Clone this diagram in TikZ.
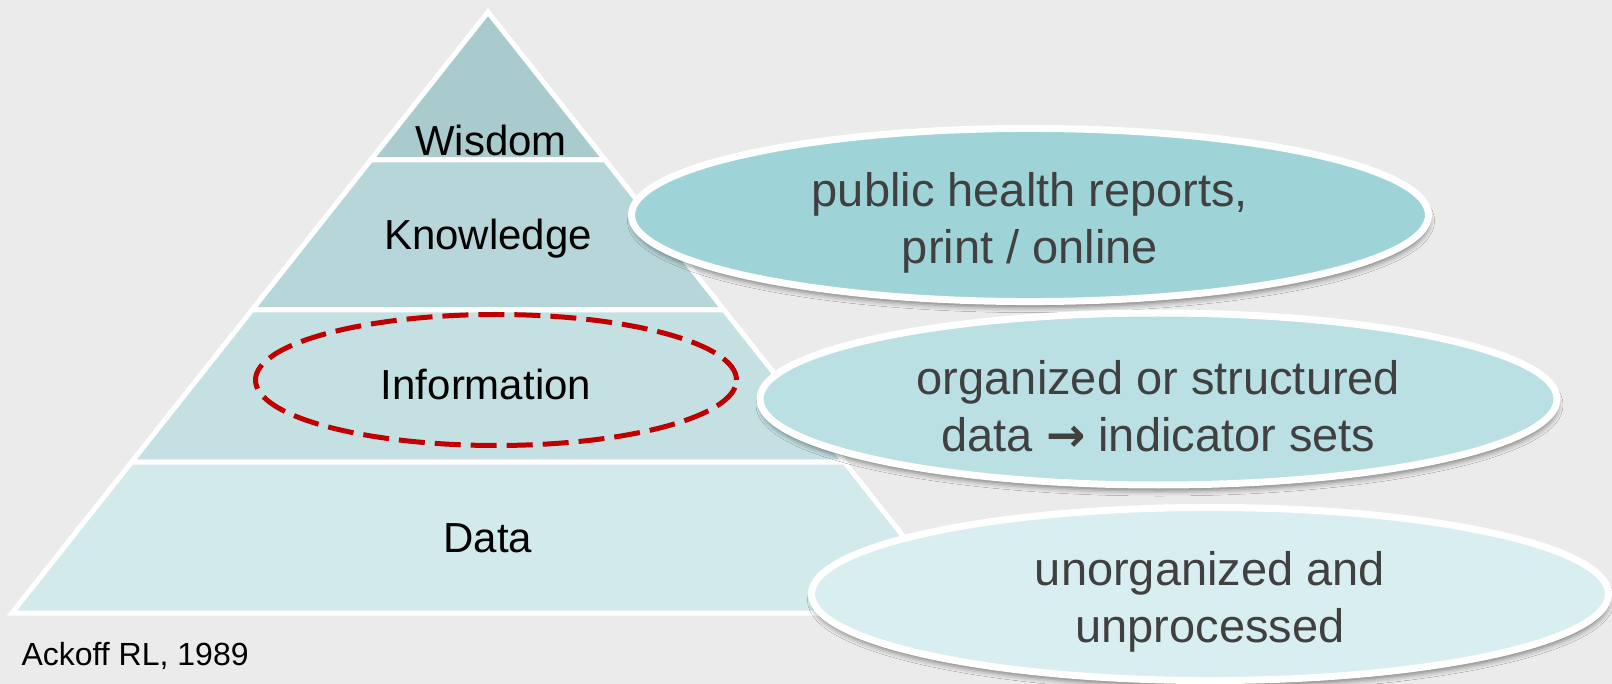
\documentclass[tikz,border=0pt]{standalone}
\usepackage{fontspec}
\setmainfont{Liberation Sans}
\newfontfamily\arrowfont{DejaVu Sans}
\usepackage{tikz}
\usetikzlibrary{shapes.geometric,shadows.blur}

\definecolor{slidebg}{HTML}{EBEBEB}
\definecolor{wisdomcol}{HTML}{A9CBCE}
\definecolor{knowcol}{HTML}{B7D6D9}
\definecolor{infocol}{HTML}{C5E0E3}
\definecolor{datacol}{HTML}{D3EAEC}
\definecolor{reportcol}{HTML}{9ED3D7}
\definecolor{indicatorcol}{HTML}{BAE0E3}
\definecolor{rawcol}{HTML}{D9EEF0}
\definecolor{markred}{HTML}{C00000}
\definecolor{notegray}{HTML}{404040}

\begin{document}
\begin{tikzpicture}[x=1pt, y=-1pt,
        tier/.style = {draw=white, line width=5pt},
        tierlabel/.style = {anchor=base, text=black, font=\fontsize{42}{48}\selectfont},
        noteoval/.style = {ellipse, draw=white, line width=7pt, minimum width=797pt, minimum height=172pt,
            align=center, text=notegray, text height=106pt, font=\fontsize{47}{57}\selectfont,
            blur shadow={shadow xshift=1pt, shadow yshift=-6pt, shadow blur radius=5pt, shadow opacity=45}},
        infoloop/.style = {ellipse, draw=markred, line width=5pt, dash pattern=on 26pt off 10pt,
            minimum width=481pt, minimum height=131pt}
    ]
        \useasboundingbox (0,0) rectangle (1612,684);
        \fill[slidebg] (0,0) rectangle (1612,684);

        \draw[tier, fill=wisdomcol] (488,12) -- (605.2,160) -- (370.8,160) -- cycle;
        \draw[tier, fill=knowcol] (370.8,160) -- (605.2,160) -- (724,310) -- (252,310) -- cycle;
        \draw[tier, fill=infocol] (252,310) -- (724,310) -- (844.4,462) -- (131.6,462) -- cycle;
        \draw[tier, fill=datacol] (131.6,462) -- (844.4,462) -- (964,613) -- (12,613) -- cycle;

        \node[tierlabel] (wisdom) at (491,156) {Wisdom};
        \node[tierlabel] (knowledge) at (488,250) {Knowledge};
        \node[tierlabel] (information) at (486,400) {Information};
        \node[tierlabel] (data) at (488,552) {Data};
        \node[infoloop] (infomark) at (496,380) {};

        \node[noteoval, fill=reportcol] (reports) at (1030,215) {public health reports,\\print / online};
        \node[noteoval, fill=indicatorcol] (indicators) at (1158.5,399) {organized or structured\\data {\arrowfont\bfseries →} indicator sets};
        \node[noteoval, fill=rawcol] (rawdata) at (1210,594) {unorganized and\\unprocessed};

        \node[anchor=base west, text=black, font=\fontsize{32}{38}\selectfont] (source) at (18,665) {Ackoff RL, 1989};
    \end{tikzpicture}
\end{document}
